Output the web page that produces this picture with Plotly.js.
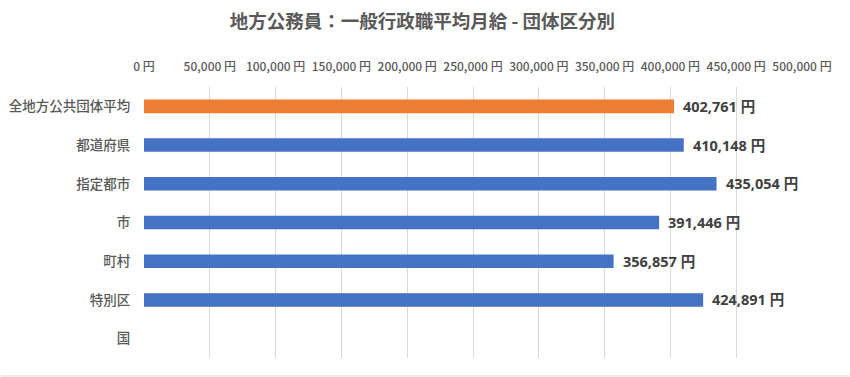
<!DOCTYPE html>
<html>
<head>
<meta charset="utf-8">
<script src="https://cdn.plot.ly/plotly-3.0.1.min.js"></script>
<style>html,body{margin:0;padding:0;background:#fff;}#chart{width:850px;height:377px;}</style>
</head>
<body>
<div id="chart"></div>
<script>
const categories = ["全地方公共団体平均", "都道府県", "指定都市", "市", "町村", "特別区", "国"];
const values = [402761, 410148, 435054, 391446, 356857, 424891, null];
const barColors = ["#ED7D31", "#4472C4", "#4472C4", "#4472C4", "#4472C4", "#4472C4", "#4472C4"];
const tickVals = [0, 50000, 100000, 150000, 200000, 250000, 300000, 350000, 400000, 450000, 500000];
const tickText = ["0 円", "50,000 円", "100,000 円", "150,000 円", "200,000 円", "250,000 円", "300,000 円", "350,000 円", "400,000 円", "450,000 円", "500,000 円"];

const fmt = v => v.toLocaleString("en-US") + " 円";
const FONT = "'Noto Sans CJK JP', 'Noto Sans', sans-serif";
const LABEL_FONT = "'Open Sans', 'Noto Sans CJK JP', sans-serif";

const trace = {
  type: "bar",
  orientation: "h",
  y: categories,
  x: values,
  marker: {color: barColors},
  hoverinfo: "none",
  cliponaxis: false
};

const annotations = [];
categories.forEach((c, i) => {
  if (values[i] !== null) {
    annotations.push({
      x: values[i], y: c, xref: "x", yref: "y",
      text: fmt(values[i]), showarrow: false,
      xanchor: "left", yanchor: "middle", xshift: 7,
      font: {family: LABEL_FONT, size: 14.5, color: "#404040", weight: "bold"}
    });
  }
});

const layout = {
  width: 850, height: 377,
  margin: {l: 143.5, r: 47.5, t: 87, b: 19},
  paper_bgcolor: "#ffffff",
  plot_bgcolor: "#ffffff",
  showlegend: false,
  bargap: 0.65,
  title: {
    text: "地方公務員：一般行政職平均月給 - 団体区分別",
    font: {family: FONT, size: 18.5, color: "#595959", weight: "bold"},
    x: 0.497, xanchor: "center", y: 0.942, yanchor: "middle"
  },
  xaxis: {
    side: "top",
    range: [0, 500000],
    tickvals: tickVals,
    ticktext: tickText,
    showgrid: true,
    gridcolor: "#d9d9d9",
    gridwidth: 1,
    zeroline: false,
    showline: false,
    ticks: "outside",
    ticklen: 10,
    tickcolor: "rgba(0,0,0,0)",
    tickfont: {family: FONT, size: 12, color: "#595959", weight: 500},
    fixedrange: true
  },
  yaxis: {
    autorange: "reversed",
    showgrid: false,
    zeroline: false,
    showline: false,
    ticks: "outside",
    ticklen: 10,
    tickcolor: "rgba(0,0,0,0)",
    tickfont: {family: FONT, size: 13.5, color: "#595959", weight: 500},
    fixedrange: true
  },
  annotations: annotations,
  shapes: [{
    type: "line", xref: "paper", yref: "paper",
    x0: -0.2178, x1: 1.072, y0: -0.0664, y1: -0.0664,
    line: {color: "#d9d9d9", width: 1}
  }]
};

Plotly.newPlot("chart", [trace], layout, {displayModeBar: false, staticPlot: true});
</script>
</body>
</html>
